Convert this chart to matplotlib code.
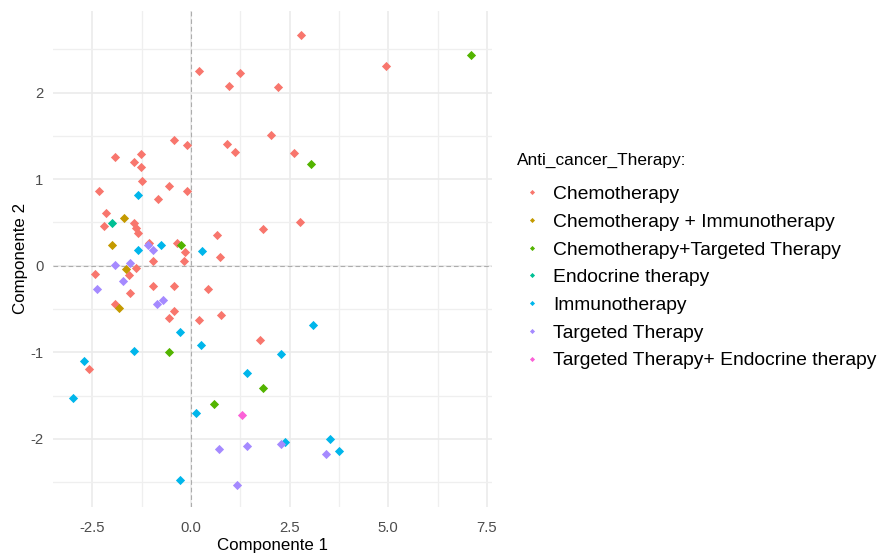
import matplotlib.pyplot as plt
from matplotlib.lines import Line2D

plt.rcParams['font.family'] = ['Liberation Sans', 'DejaVu Sans']

therapies = ['Chemotherapy', 'Chemotherapy + Immunotherapy',
             'Chemotherapy+Targeted Therapy', 'Endocrine therapy',
             'Immunotherapy', 'Targeted Therapy',
             'Targeted Therapy+ Endocrine therapy']
palette = ['#F8766D', '#C49A00', '#53B400', '#00C094',
           '#00B6EB', '#A58AFF', '#FB61D7']

# PCA scores per therapy group (Componente 1, Componente 2)
chemo_x = [2.78, 4.93, 0.21, 1.24, 0.96, 2.20, 2.03, -0.43, -0.11, 0.90,
           1.12, 2.60, -1.93, -1.45, -1.28, -1.28, -1.24, -2.34, -0.56, -0.11,
           -0.84, -2.16, -2.20, -1.45, -1.40, -1.35, 2.75, 1.83, 0.67, 0.74,
           -1.07, -0.36, -0.14, -0.18, -0.97, -1.40, -2.43, -1.58, -0.97, -0.43,
           0.42, -1.54, -1.93, -0.43, -0.56, 0.21, 0.76, 1.76, -2.58]
chemo_y = [2.66, 2.31, 2.25, 2.23, 2.07, 2.06, 1.51, 1.45, 1.39, 1.41,
           1.31, 1.30, 1.25, 1.20, 1.29, 1.14, 0.98, 0.86, 0.92, 0.86,
           0.77, 0.61, 0.46, 0.49, 0.44, 0.38, 0.51, 0.42, 0.35, 0.10,
           0.26, 0.26, 0.16, 0.05, 0.05, -0.03, -0.09, -0.11, -0.23, -0.23,
           -0.27, -0.32, -0.44, -0.52, -0.60, -0.63, -0.57, -0.86, -1.19]

chemo_immuno_x = [-1.69, -2.00, -1.65, -1.83]
chemo_immuno_y = [0.555, 0.24, -0.04, -0.49]

chemo_target_x = [7.10, 3.04, -0.25, -0.56, 1.83, 0.57]
chemo_target_y = [2.43, 1.17, 0.24, -1.00, -1.41, -1.60]

endocrine_x = [-1.99]
endocrine_y = [0.49]

immuno_x = [-1.35, -0.76, -1.35, 0.28, -0.29, 3.08, 0.25, -1.45, 2.27, -2.70,
            1.42, -2.98, 0.13, 3.52, 2.37, 3.76, -0.29]
immuno_y = [0.82, 0.24, 0.18, 0.165, -0.77, -0.69, -0.91, -0.99, -1.02, -1.10,
            -1.24, -1.53, -1.70, -2.00, -2.04, -2.14, -2.47]

target_x = [-1.08, -0.97, -1.93, -1.55, -1.72, -2.37, -0.70, -0.87,
            0.70, 1.42, 2.27, 3.43, 1.17]
target_y = [0.24, 0.18, 0.01, 0.03, -0.18, -0.27, -0.40, -0.44,
            -2.12, -2.08, -2.06, -2.17, -2.53]

target_endo_x = [1.28]
target_endo_y = [-1.72]

groups = [(chemo_x, chemo_y), (chemo_immuno_x, chemo_immuno_y),
          (chemo_target_x, chemo_target_y), (endocrine_x, endocrine_y),
          (immuno_x, immuno_y), (target_x, target_y),
          (target_endo_x, target_endo_y)]

x_ticks = [-2.5, 0.0, 2.5, 5.0, 7.5]
x_labels = ['-2.5', '0.0', '2.5', '5.0', '7.5']
y_ticks = [-2, -1, 0, 1, 2]
y_labels = ['-2', '-1', '0', '1', '2']

W, H = 884, 554
fig = plt.figure(figsize=(W / 100, H / 100), dpi=100)
ax = fig.add_axes([53.3 / W, 1 - 507 / H, (491.7 - 53.3) / W, (507 - 10.6) / H])

ax.set_xlim(-3.49, 7.62)
ax.set_ylim(-2.786, 2.946)
ax.set_xticks(x_ticks)
ax.set_xticklabels(x_labels)
ax.set_yticks(y_ticks)
ax.set_yticklabels(y_labels)
ax.set_xticks([-1.25, 1.25, 3.75, 6.25], minor=True)
ax.set_yticks([-2.5, -1.5, -0.5, 0.5, 1.5, 2.5], minor=True)

ax.grid(which='major', color='#EBEBEB', linewidth=1.2)
ax.grid(which='minor', color='#EFEFEF', linewidth=0.9)
ax.set_axisbelow(True)
for s in ax.spines.values():
    s.set_visible(False)
ax.tick_params(which='both', length=0)
ax.tick_params(axis='x', labelsize=10.7, labelcolor='#4D4D4D', pad=10)
ax.tick_params(axis='y', labelsize=10.7, labelcolor='#4D4D4D', pad=7)

ax.axhline(0, color='#ADADAD', linewidth=0.8, dashes=(4.2, 2.6), zorder=1)
ax.axvline(0, color='#ADADAD', linewidth=0.8, dashes=(4.2, 2.6), zorder=1)

for (gx, gy), col in zip(groups, palette):
    ax.scatter(gx, gy, marker='D', s=22, color=col, linewidths=0, zorder=3)

ax.set_xlabel('Componente 1', fontsize=12.2, color='black', labelpad=2.5)
ax.set_ylabel('Componente 2', fontsize=12.2, color='black', labelpad=2)

fig.text(517 / W, 1 - 160 / H, 'Anti_cancer_Therapy:', fontsize=12.4,
         va='center', ha='left')
handles = [Line2D([], [], marker='D', linestyle='none', markersize=2.6,
                  markerfacecolor=c, markeredgewidth=0) for c in palette]
fig.legend(handles, therapies, loc='upper left',
           bbox_to_anchor=(517 / W, 1 - 185.5 / H), frameon=False,
           fontsize=13.9, borderpad=0, borderaxespad=0,
           handlelength=1.58, handletextpad=0.30, labelspacing=0.53)

fig.savefig('out.png', dpi=100)
